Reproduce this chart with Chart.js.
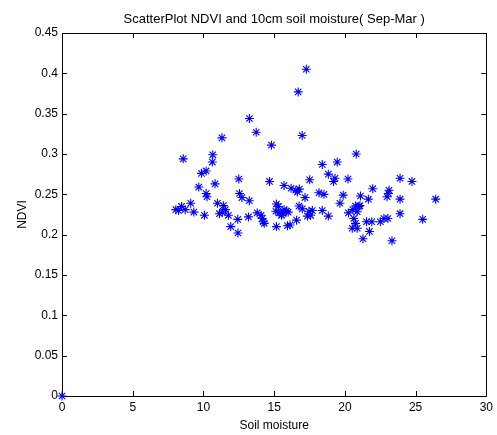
<!DOCTYPE html>
<html lang="en">
<head>
  <meta charset="UTF-8">
  <title>ScatterPlot NDVI and 10cm soil moisture</title>
  <script src="https://cdn.jsdelivr.net/npm/chart.js"></script>
  <style>
    body {
      margin: 0;
      padding: 0;
      background: #fff;
    }
    #scatter {
      display: block;
    }
  </style>
</head>
<body>
  <canvas id="scatter" width="497" height="435"></canvas>
  <script>
    // Soil moisture (x) and NDVI (y), one entry per observation
    const soilMoisture = [
      0, 8.05, 8.24, 8.45, 8.71, 8.57, 9.1, 9.32, 9.67, 9.86,
      10.19, 10.07, 10.19, 10.25, 10.66, 10.63, 10.82, 10.99, 11.31, 11.41,
      11.55, 11.34, 11.13, 11.76, 11.93, 12.43, 12.44, 12.5, 12.55, 12.72,
      13.24, 13.18, 13.25, 13.73, 13.8, 14.08, 14.15, 14.23, 14.3, 14.67,
      14.81, 15.16, 15.3, 15.12, 15.35, 15.52, 15.7, 15.87, 15.99, 15.63,
      15.16, 15.94, 16.12, 16.58, 15.7, 16.2, 16.53, 16.78, 16.64, 17.18,
      17.51, 16.76, 16.99, 17.35, 17.46, 17.58, 17.7, 16.7, 17.27, 16.98,
      18.17, 18.52, 18.4, 18.83, 18.4, 18.83, 19.3, 19.2, 19.46, 19.88,
      19.65, 20.22, 20.25, 20.56, 20.75, 20.87, 20.99, 21.06, 20.63, 20.75,
      20.52, 20.87, 20.8, 21.1, 21.66, 21.28, 21.74, 21.53, 21.9, 21.97,
      22.51, 22.76, 23.04, 22.98, 23.08, 23.12, 23.33, 23.9, 23.9, 23.9,
      24.74, 25.5, 26.42
    ];
    const ndvi = [
      0, 0.231, 0.230, 0.235, 0.231, 0.294, 0.239, 0.228, 0.259, 0.276,
      0.279, 0.224, 0.251, 0.247, 0.299, 0.290, 0.263, 0.239, 0.320, 0.236,
      0.231, 0.228, 0.226, 0.224, 0.210, 0.219, 0.202, 0.269, 0.251, 0.246,
      0.242, 0.222, 0.344, 0.327, 0.227, 0.224, 0.220, 0.216, 0.214, 0.266,
      0.311, 0.238, 0.235, 0.229, 0.227, 0.224, 0.231, 0.229, 0.228, 0.226,
      0.210, 0.211, 0.212, 0.218, 0.261, 0.2575, 0.255, 0.2565, 0.253, 0.246,
      0.268, 0.2355, 0.232, 0.223, 0.229, 0.224, 0.230, 0.377, 0.405, 0.323,
      0.252, 0.250, 0.230, 0.223, 0.287, 0.275, 0.270, 0.266, 0.290, 0.249,
      0.239, 0.269, 0.227, 0.231, 0.2355, 0.2285, 0.235, 0.236, 0.220, 0.214,
      0.208, 0.208, 0.300, 0.248, 0.244, 0.195, 0.204, 0.216, 0.216, 0.257,
      0.216, 0.220, 0.220, 0.247, 0.251, 0.255, 0.1925, 0.270, 0.244, 0.226,
      0.266, 0.219, 0.244
    ];

    const chartTitle = 'ScatterPlot NDVI and 10cm soil moisture( Sep-Mar )';
    const xLabel = 'Soil moisture';
    const yLabel = 'NDVI';
    const xTicks = [0, 5, 10, 15, 20, 25, 30];
    const yTicks = [0, 0.05, 0.1, 0.15, 0.2, 0.25, 0.3, 0.35, 0.4, 0.45];

    const points = soilMoisture.map((x, i) => ({ x: x, y: ndvi[i] }));

    const fontFamily = '"Liberation Sans", Arial, sans-serif';

    // Draws the closed axes box with inward tick marks on all four sides
    const boxAxes = {
      id: 'boxAxes',
      beforeDatasetsDraw(chart) {
        const { ctx, chartArea: a, scales } = chart;
        const len = 5;
        ctx.save();
        ctx.strokeStyle = '#000';
        ctx.lineWidth = 1;
        ctx.beginPath();
        ctx.rect(Math.round(a.left) + 0.5, Math.round(a.top) + 0.5,
          Math.round(a.right - a.left), Math.round(a.bottom - a.top));
        xTicks.forEach((v) => {
          const px = Math.round(scales.x.getPixelForValue(v)) + 0.5;
          ctx.moveTo(px, a.bottom);
          ctx.lineTo(px, a.bottom - len);
          ctx.moveTo(px, a.top);
          ctx.lineTo(px, a.top + len);
        });
        yTicks.forEach((v) => {
          const py = Math.round(scales.y.getPixelForValue(v)) + 0.5;
          ctx.moveTo(a.left, py);
          ctx.lineTo(a.left + len, py);
          ctx.moveTo(a.right, py);
          ctx.lineTo(a.right - len, py);
        });
        ctx.stroke();
        ctx.restore();
      }
    };

    new Chart(document.getElementById('scatter'), {
      type: 'scatter',
      data: {
        datasets: [{
          data: points,
          pointStyle: 'star',
          radius: 4.5,
          borderColor: '#0000ff',
          backgroundColor: '#0000ff',
          borderWidth: 1.1,
          clip: false
        }]
      },
      options: {
        responsive: false,
        animation: false,
        layout: { padding: { left: 0, right: 9, top: 0, bottom: 0 } },
        plugins: {
          legend: { display: false },
          tooltip: { enabled: false },
          title: {
            display: true,
            fullSize: false,
            text: chartTitle,
            color: '#000',
            font: { family: fontFamily, size: 13, weight: 'normal', lineHeight: 1.1 },
            padding: { top: 12, bottom: 6.7 }
          }
        },
        scales: {
          x: {
            type: 'linear',
            min: 0,
            max: 30,
            afterFit: (scale) => { scale.height = 39; },
            afterBuildTicks: (scale) => { scale.ticks = xTicks.map((v) => ({ value: v })); },
            grid: { display: false, drawTicks: false },
            border: { display: false },
            ticks: {
              color: '#000',
              padding: 4,
              maxRotation: 0,
              font: { family: fontFamily, size: 12 },
              callback: (v) => String(v)
            },
            title: {
              display: true,
              text: xLabel,
              color: '#000',
              font: { family: fontFamily, size: 12 },
              padding: { top: 0, bottom: 2 }
            }
          },
          y: {
            type: 'linear',
            min: 0,
            max: 0.45,
            afterFit: (scale) => { scale.width = 62; },
            afterBuildTicks: (scale) => { scale.ticks = yTicks.map((v) => ({ value: v })); },
            grid: { display: false, drawTicks: false },
            border: { display: false },
            ticks: {
              color: '#000',
              padding: 4,
              font: { family: fontFamily, size: 12 },
              callback: (v) => String(+v.toFixed(2))
            },
            title: {
              display: true,
              text: yLabel,
              color: '#000',
              font: { family: fontFamily, size: 12 },
              padding: { top: 15, bottom: 0 }
            }
          }
        }
      },
      plugins: [boxAxes]
    });
  </script>
</body>
</html>
